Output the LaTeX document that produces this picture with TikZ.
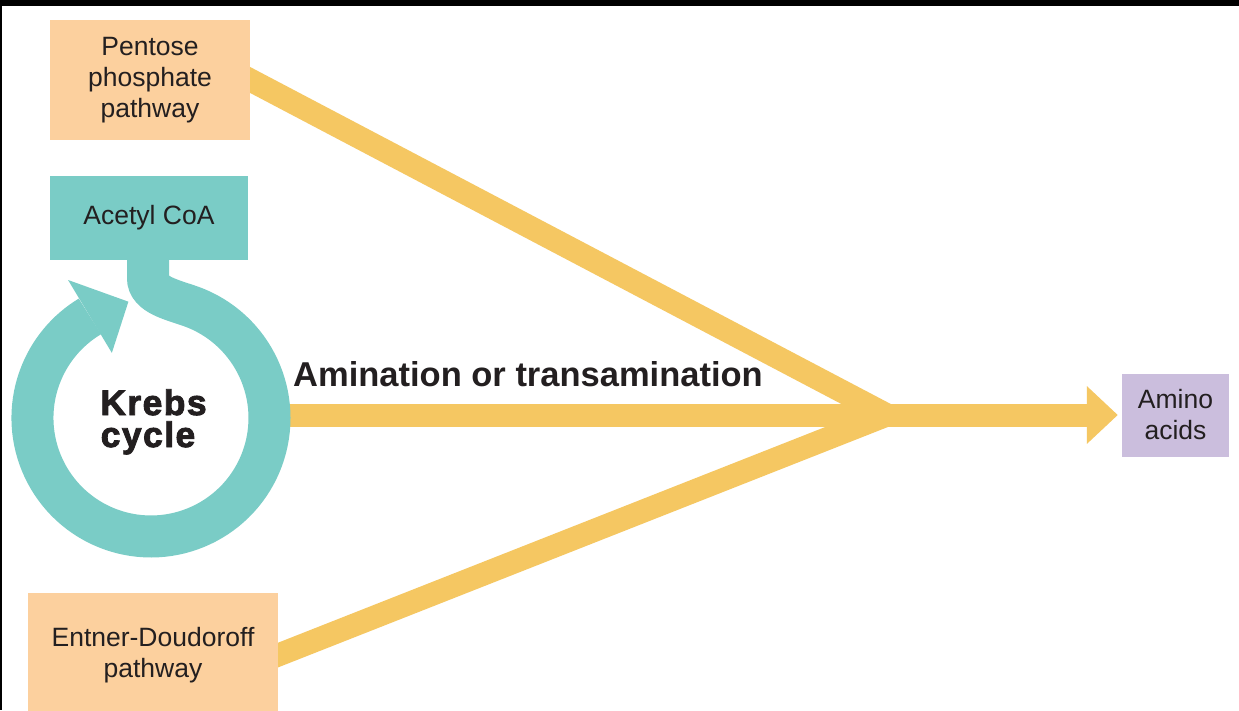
\documentclass[tikz,border=0pt]{standalone}
\usepackage{fontspec}
\setmainfont{Liberation Sans}
\newfontfamily\heavyfont{Liberation Sans}[BoldFeatures={FakeBold=2.5, LetterSpace=4}]
\usetikzlibrary{arrows.meta,backgrounds}
\definecolor{peach}{RGB}{252,208,158}
\definecolor{cycleteal}{RGB}{122,204,198}
\definecolor{flowyellow}{RGB}{245,199,98}
\definecolor{lavender}{RGB}{203,190,221}
\definecolor{ink}{RGB}{35,31,32}
\begin{document}
\begin{tikzpicture}[x=1pt,y=-1pt,
  box/.style={draw=none, inner sep=0pt, align=center, text=ink,
    font=\fontsize{26.5}{31}\selectfont},
  heavy/.style={font=\heavyfont\bfseries\fontsize{35.5}{30}\selectfont, text=ink,
    inner sep=0pt, anchor=base},
  flow/.style={draw=flowyellow, line width=23pt},
  ring/.style={draw=cycleteal, line width=42pt}]
\useasboundingbox (0,0) rectangle (1239,710);

% source and product boxes
\node[box, fill=peach, minimum width=200pt, minimum height=120pt] (pentose) at (150,80) {Pentose\\phosphate\\pathway};
\node[box, fill=cycleteal, minimum width=198pt, minimum height=84pt] (acetyl) at (149,218) {Acetyl CoA};
\node[box, fill=peach, minimum width=250pt, minimum height=124pt] (entner) at (153,655) {Entner-Doudoroff\\pathway};
\node[box, fill=lavender, minimum width=107pt, minimum height=83pt] (amino) at (1175.5,415) {Amino\\acids};

\coordinate (merge) at (887,415);
\coordinate (ringE) at (268,415);

% page, frame and yellow flows, all behind the boxes
\begin{pgfonlayer}{background}
  \fill[white] (0,0) rectangle (1239,710);
  \fill[black] (0,0) rectangle (1239,6);
  \fill[black] (0,0) rectangle (2,710);
  \draw[flow, shorten <=-10pt] (pentose.east) -- (merge);
  \draw[flow, shorten <=-10pt] (entner.east) -- (merge);
  \draw[flow, -{Triangle[length=31pt,width=56pt]}, shorten >=4pt] (ringE) -- (amino.west);
\end{pgfonlayer}

% Krebs cycle ring fed by acetyl CoA
\draw[ring] (148,256) -- (148,278) .. controls (148,295) and (172.7,299.8) .. (191.5,306.6)
  arc[start angle=-70, end angle=239, radius=118.5];
\fill[cycleteal, shift={(151,418)}] (239:76) -- (239:161) -- (259:118.5) -- cycle;

\node[heavy] (krebs) at (153.5,415) {Krebs};
\node[heavy] (cycle) at (148,447) {cycle};

\node[font=\bfseries\fontsize{34.5}{40}\selectfont, text=ink, anchor=base, inner sep=0pt] (label) at (528,386) {Amination or transamination};
\end{tikzpicture}
\end{document}
